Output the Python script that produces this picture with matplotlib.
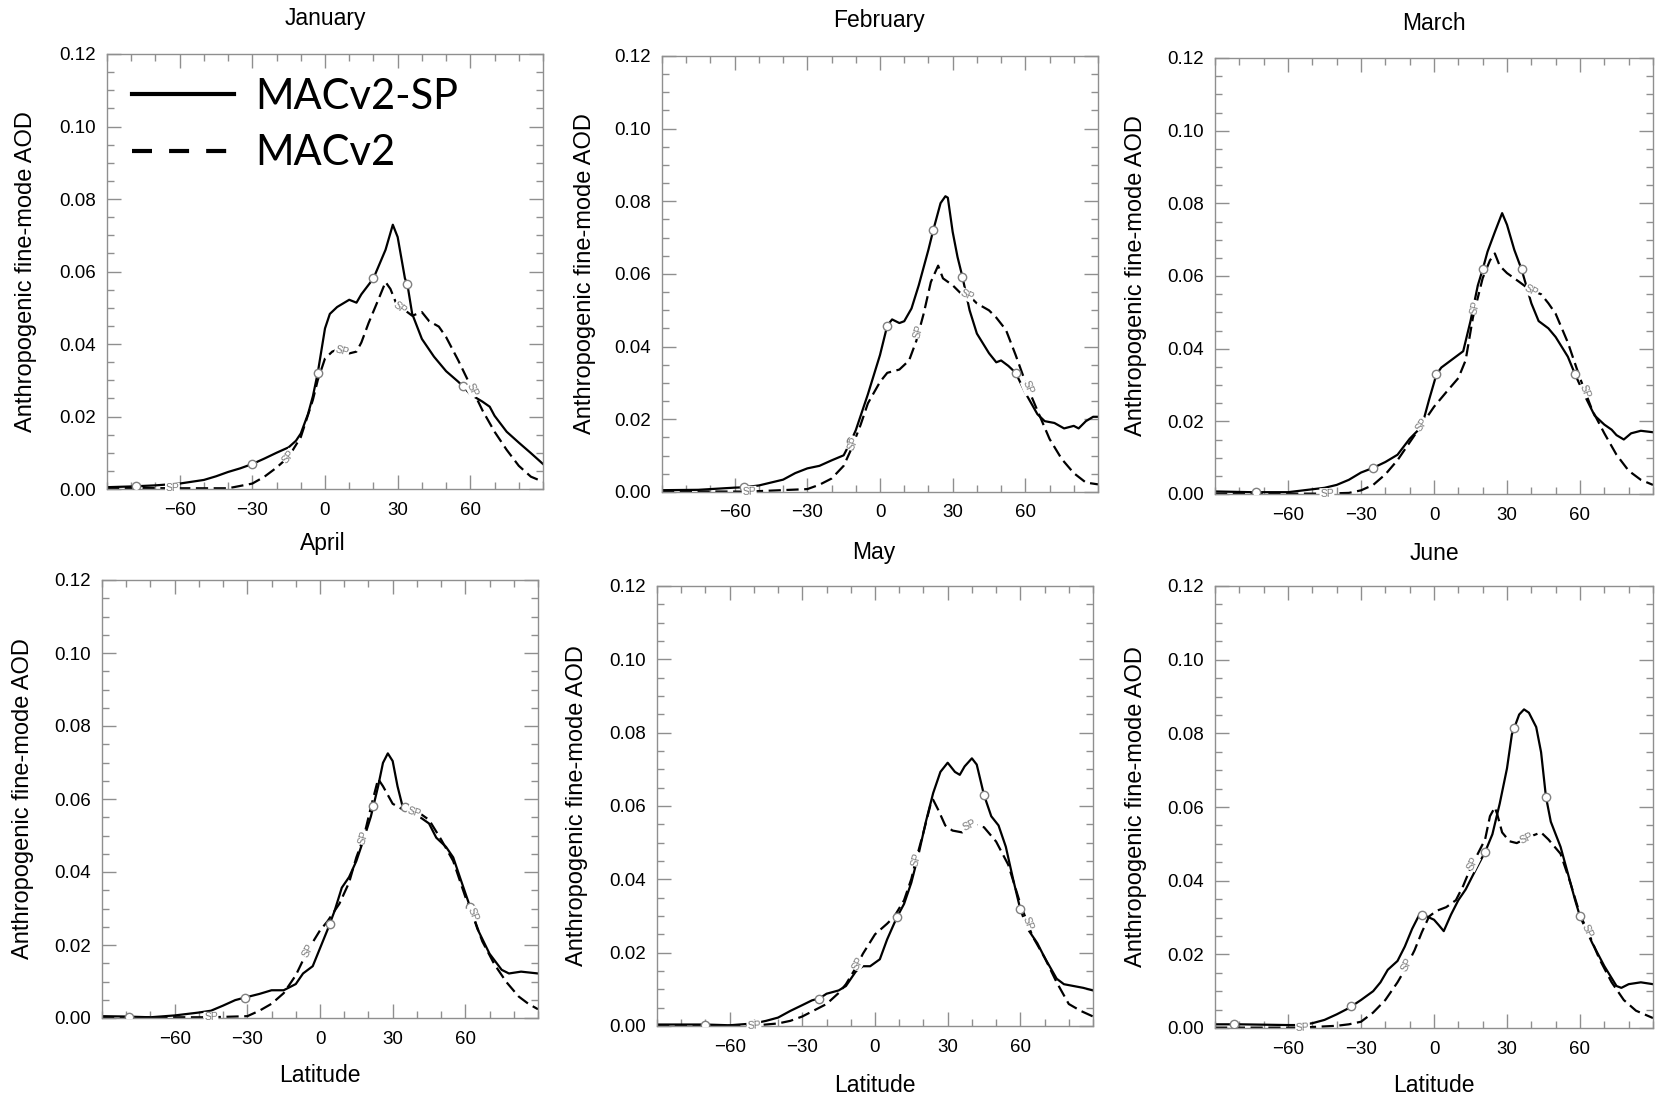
import numpy as np
import matplotlib.pyplot as plt
from matplotlib.lines import Line2D
from matplotlib.ticker import MultipleLocator, FormatStrFormatter

# ---- data (latitude, AOD) ----
months = ['January', 'February', 'March', 'April', 'May', 'June']

jan_lat_sp = [-90, -80, -70, -60, -50, -45, -40, -35, -30, -25, -20, -15, -12, -10, -7, -5, -3, 0, 2, 5, 10, 13, 15, 20, 25, 28, 30, 33, 34, 36, 40, 45, 50, 55, 57, 60, 65, 68, 70, 75, 80, 85, 90]
jan_sp = [0.0005, 0.0007, 0.001, 0.0015, 0.0025, 0.0035, 0.0047, 0.0057, 0.0069, 0.0084, 0.010, 0.0115, 0.0133, 0.0153, 0.0207, 0.0256, 0.032, 0.0443, 0.0483, 0.0502, 0.0522, 0.0514, 0.0537, 0.0581, 0.066, 0.0729, 0.0695, 0.0581, 0.0565, 0.0483, 0.0414, 0.0365, 0.0325, 0.0296, 0.0283, 0.0261, 0.0241, 0.0227, 0.0202, 0.0158, 0.0128, 0.0099, 0.0069]
jan_lat_mac = [-90, -60, -40, -30, -25, -20, -15, -10, -5, -3, 0, 3, 5, 10, 13, 15, 18, 22, 25, 27, 30, 33, 36, 40, 43, 47, 50, 55, 60, 65, 70, 75, 80, 85, 90]
jan_mac = [0.0003, 0.0002, 0.0002, 0.0015, 0.0034, 0.0059, 0.0089, 0.0143, 0.0246, 0.030, 0.036, 0.0379, 0.0384, 0.0374, 0.0379, 0.0404, 0.0458, 0.0522, 0.0571, 0.0552, 0.0502, 0.0493, 0.0478, 0.0488, 0.0463, 0.0448, 0.0419, 0.0355, 0.0286, 0.0217, 0.0158, 0.0108, 0.0064, 0.0034, 0.002]

feb_lat_sp = [-90, -75, -60, -56, -50, -45, -40, -35, -30, -25, -20, -15, -12, -10, -5, 0, 3, 5, 8, 10, 13, 16, 20, 22, 25, 27, 28, 30, 32, 34, 37, 40, 45, 48, 50, 53, 56, 60, 65, 68, 72, 76, 80, 82, 85, 88, 90]
feb_sp = [0.0005, 0.0006, 0.0012, 0.0013, 0.0018, 0.0026, 0.0034, 0.0052, 0.0065, 0.0072, 0.0087, 0.0101, 0.014, 0.017, 0.0269, 0.0377, 0.0458, 0.0475, 0.0465, 0.047, 0.0505, 0.0569, 0.0667, 0.0721, 0.0795, 0.0814, 0.081, 0.0716, 0.0647, 0.0593, 0.050, 0.0436, 0.0382, 0.0357, 0.0362, 0.0347, 0.0328, 0.0273, 0.0214, 0.0195, 0.019, 0.0175, 0.0182, 0.0175, 0.0195, 0.0207, 0.0207]
feb_lat_mac = [-90, -55, -30, -25, -20, -15, -12, -8, -5, 0, 3, 8, 12, 15, 18, 21, 24, 26, 30, 33, 37, 40, 45, 48, 52, 56, 60, 65, 70, 75, 80, 85, 90]
feb_mac = [0.0002, 0.0001, 0.0008, 0.002, 0.0037, 0.0072, 0.0116, 0.0185, 0.0244, 0.0303, 0.0328, 0.0337, 0.0362, 0.0416, 0.049, 0.0578, 0.0623, 0.0588, 0.0569, 0.0549, 0.0539, 0.0519, 0.050, 0.048, 0.0446, 0.0377, 0.0303, 0.0224, 0.0146, 0.0091, 0.0052, 0.0026, 0.0021]

mar_lat_sp = [-90, -75, -60, -50, -45, -40, -35, -30, -25, -20, -15, -10, -5, -2, 1, 3, 8, 12, 15, 18, 20, 22, 25, 28, 30, 33, 36, 40, 43, 47, 50, 55, 58, 62, 66, 70, 73, 75, 78, 81, 85, 90]
mar_sp = [0.0007, 0.0005, 0.0005, 0.0013, 0.0017, 0.0025, 0.0039, 0.0059, 0.0072, 0.0088, 0.0108, 0.0152, 0.0186, 0.026, 0.0329, 0.0348, 0.0373, 0.0393, 0.0476, 0.0574, 0.0618, 0.0667, 0.0721, 0.0773, 0.0741, 0.0672, 0.0618, 0.0525, 0.0476, 0.0456, 0.0432, 0.0378, 0.0329, 0.027, 0.0216, 0.0191, 0.0177, 0.0162, 0.015, 0.0167, 0.0174, 0.017]
mar_lat_mac = [-90, -60, -45, -35, -30, -25, -20, -15, -10, -5, 0, 5, 10, 13, 16, 20, 23, 25, 27, 30, 35, 40, 44, 47, 50, 55, 60, 65, 70, 75, 80, 85, 90]
mar_mac = [0.0001, 0.0001, 0.0001, 0.0003, 0.001, 0.0025, 0.0054, 0.0093, 0.0142, 0.0191, 0.024, 0.028, 0.0319, 0.0368, 0.0486, 0.0594, 0.0643, 0.0662, 0.0628, 0.0608, 0.0584, 0.0559, 0.055, 0.0525, 0.0496, 0.0417, 0.0319, 0.0231, 0.0167, 0.0108, 0.0064, 0.0039, 0.0025]

apr_lat_sp = [-90, -80, -70, -60, -50, -45, -40, -35, -31, -25, -20, -15, -10, -7, -3, 0, 3, 6, 9, 12, 15, 18, 21, 24, 26, 28, 30, 32, 34, 38, 42, 45, 48, 52, 55, 58, 61, 65, 70, 75, 78, 83, 90]
apr_sp = [0.0005, 0.0004, 0.0002, 0.0007, 0.0015, 0.002, 0.0034, 0.0049, 0.0056, 0.0066, 0.0076, 0.0076, 0.0093, 0.0122, 0.0142, 0.0191, 0.024, 0.0293, 0.0357, 0.0386, 0.043, 0.0489, 0.0552, 0.0635, 0.0699, 0.0725, 0.0704, 0.0635, 0.0582, 0.0562, 0.0547, 0.0533, 0.0494, 0.0469, 0.044, 0.0381, 0.0323, 0.0244, 0.0176, 0.0132, 0.0122, 0.0127, 0.0122]
apr_lat_mac = [-90, -45, -30, -25, -20, -15, -10, -5, 0, 3, 8, 12, 15, 18, 21, 24, 26, 30, 34, 38, 42, 45, 50, 55, 60, 63, 67, 72, 77, 82, 86, 90]
apr_mac = [0.0002, 0.0002, 0.0005, 0.002, 0.0039, 0.0068, 0.0117, 0.0186, 0.024, 0.0264, 0.0313, 0.0371, 0.044, 0.0494, 0.0577, 0.0655, 0.0635, 0.0587, 0.0572, 0.0567, 0.0557, 0.0543, 0.0489, 0.043, 0.0332, 0.0284, 0.021, 0.0147, 0.0098, 0.0059, 0.0039, 0.0024]

may_lat_sp = [-90, -70, -60, -50, -45, -40, -35, -30, -26, -23, -20, -15, -12, -8, -5, -2, 2, 5, 9, 12, 15, 18, 21, 24, 27, 30, 33, 35, 37, 40, 42, 45, 48, 51, 54, 57, 60, 63, 67, 70, 75, 78, 82, 86, 90]
may_sp = [0.0004, 0.0004, 0.0002, 0.0007, 0.0014, 0.0023, 0.0041, 0.0057, 0.007, 0.0075, 0.0088, 0.0097, 0.0109, 0.0148, 0.0163, 0.0163, 0.0182, 0.0236, 0.0296, 0.0333, 0.0391, 0.0469, 0.0557, 0.0635, 0.0693, 0.0718, 0.0693, 0.0685, 0.0708, 0.073, 0.0713, 0.063, 0.0572, 0.0547, 0.0489, 0.0401, 0.0318, 0.0265, 0.0226, 0.0187, 0.0129, 0.0114, 0.0109, 0.0104, 0.0097]
may_lat_mac = [-90, -50, -40, -35, -30, -25, -20, -15, -12, -8, -5, 0, 5, 8, 12, 15, 17, 20, 23, 24, 26, 29, 32, 36, 39, 42, 45, 50, 55, 60, 65, 70, 75, 80, 85, 90]
may_mac = [0.0001, 0.0001, 0.0007, 0.0014, 0.0026, 0.0043, 0.006, 0.009, 0.0114, 0.0158, 0.0197, 0.025, 0.0279, 0.0299, 0.0343, 0.0401, 0.0455, 0.0528, 0.0606, 0.0617, 0.0591, 0.0547, 0.0533, 0.0528, 0.0547, 0.0547, 0.0542, 0.0503, 0.044, 0.0333, 0.0245, 0.0187, 0.0119, 0.006, 0.0041, 0.0026]

jun_lat_sp = [-90, -80, -60, -55, -50, -45, -40, -35, -30, -25, -22, -19, -15, -12, -9, -6, -3, 0, 2, 4, 7, 10, 13, 16, 19, 21, 24, 27, 30, 32, 35, 37, 39, 42, 44, 46, 48, 52, 55, 58, 60, 65, 70, 75, 77, 80, 85, 90]
jun_sp = [0.001, 0.001, 0.0008, 0.0008, 0.0013, 0.0022, 0.0037, 0.0054, 0.0076, 0.010, 0.0124, 0.0158, 0.0182, 0.0221, 0.0269, 0.0308, 0.0303, 0.0294, 0.0279, 0.0263, 0.0308, 0.0347, 0.0376, 0.0415, 0.0453, 0.0478, 0.0526, 0.0609, 0.0705, 0.0797, 0.0851, 0.0865, 0.0856, 0.0817, 0.0749, 0.0628, 0.056, 0.0492, 0.042, 0.0347, 0.0303, 0.0231, 0.0168, 0.0114, 0.0109, 0.0119, 0.0124, 0.0119]
jun_lat_mac = [-90, -55, -40, -35, -30, -25, -20, -15, -12, -8, -5, -2, 1, 5, 9, 12, 15, 18, 21, 23, 25, 26, 28, 31, 34, 37, 40, 44, 47, 52, 56, 60, 64, 68, 73, 78, 83, 90]
jun_mac = [0.0001, 0.0001, 0.0006, 0.001, 0.0017, 0.0042, 0.0076, 0.0124, 0.0158, 0.0211, 0.026, 0.0303, 0.0318, 0.0328, 0.0347, 0.0386, 0.0434, 0.0473, 0.0512, 0.0575, 0.0599, 0.058, 0.0531, 0.0507, 0.0502, 0.0512, 0.0521, 0.0531, 0.0512, 0.0473, 0.0395, 0.0308, 0.025, 0.0187, 0.0124, 0.0076, 0.0047, 0.0027]

# latitudes of the in-line labels ("o" on MACv2-SP, "SP" on MACv2)
o_lats = [[-78, -30, -3, 20, 34, 57],
          [-56, -12, 3, 22, 34, 56],
          [-73, -25, 1, 20, 36, 58],
          [-79, -31, 4, 22, 35, 62],
          [-70, -23, 9, 45, 60],
          [-82, -34, -5, 21, 33, 46, 60]]
sp_lats = [[-63, -15, 7, 31, 61],
           [-54, -11, 16, 36, 61],
           [-44, -5, 17, 40, 62],
           [-45, -5, 18, 39, 63],
           [-50, -7, 17, 39, 63],
           [-54, -11, 16, 38, 63]]

series_sp = [(jan_lat_sp, jan_sp), (feb_lat_sp, feb_sp), (mar_lat_sp, mar_sp),
             (apr_lat_sp, apr_sp), (may_lat_sp, may_sp), (jun_lat_sp, jun_sp)]
series_mac = [(jan_lat_mac, jan_mac), (feb_lat_mac, feb_mac), (mar_lat_mac, mar_mac),
              (apr_lat_mac, apr_mac), (may_lat_mac, may_mac), (jun_lat_mac, jun_mac)]

# ---- layout (pixels in a 1661x1095 canvas) ----
W, H = 1661, 1095
boxes = [(107, 543, 54, 489), (662, 1098, 56, 492), (1215, 1653, 58, 494),
         (102, 538, 580, 1018), (657, 1093, 586, 1026), (1215, 1653, 586, 1028)]
title_pos = [(325, 18), (879, 21), (1434, 23), (323, 543), (874, 553), (1434, 554)]
ylab_x = [26, 585, 1136, 23, 577, 1136]
xlab_y = [None, None, None, 1076, 1085, 1085]

plt.rcParams['font.family'] = ['Liberation Sans', 'DejaVu Sans']
frame = '#8f8f8f'
dash = (0, (5.5, 2.5))

fig = plt.figure(figsize=(W / 100, H / 100), dpi=100)

for i, (l, r, t, b) in enumerate(boxes):
    ax = fig.add_axes([l / W, 1 - b / H, (r - l) / W, (b - t) / H])
    ax.set_xlim(-90, 90)
    ax.set_ylim(0, 0.12)

    lat_s, val_s = series_sp[i]
    lat_m, val_m = series_mac[i]
    ax.plot(lat_m, val_m, color='black', lw=1.6, linestyle=dash, zorder=2)
    ax.plot(lat_s, val_s, color='black', lw=1.6, zorder=2)

    # "o" labels on the solid line
    oy = np.interp(o_lats[i], lat_s, val_s)
    ax.plot(o_lats[i], oy, 'o', ms=6, mfc='white', mec='#808080', mew=1.0, zorder=4)

    # "SP" labels on the dashed line, rotated along the curve
    for la in sp_lats[i]:
        y0 = np.interp(la, lat_m, val_m)
        p1 = ax.transData.transform((la - 1.5, np.interp(la - 1.5, lat_m, val_m)))
        p2 = ax.transData.transform((la + 1.5, np.interp(la + 1.5, lat_m, val_m)))
        ang = np.degrees(np.arctan2(p2[1] - p1[1], p2[0] - p1[0]))
        ax.text(la, y0, 'SP', fontsize=7.5, color='#7a7a7a', rotation=ang,
                ha='center', va='center', rotation_mode='anchor', zorder=4,
                bbox=dict(boxstyle='square,pad=0.05', fc='white', ec='none'))

    ax.set_xticks([-60, -30, 0, 30, 60])
    ax.xaxis.set_minor_locator(MultipleLocator(10))
    ax.yaxis.set_major_locator(MultipleLocator(0.02))
    ax.yaxis.set_minor_locator(MultipleLocator(0.005))
    ax.yaxis.set_major_formatter(FormatStrFormatter('%.2f'))
    ax.tick_params(which='both', direction='in', top=True, right=True,
                   color=frame, width=1.0, labelsize=13.5)
    ax.tick_params(which='major', length=10)
    ax.tick_params(which='minor', length=5)
    ax.tick_params(axis='x', pad=9)
    ax.tick_params(axis='y', pad=8)
    for s in ax.spines.values():
        s.set_color(frame)
        s.set_linewidth(1.0)

    cy = (t + b) / 2
    fig.text(title_pos[i][0] / W, 1 - title_pos[i][1] / H, months[i],
             fontsize=16.5, ha='center', va='center')
    fig.text(ylab_x[i] / W, 1 - cy / H, 'Anthropogenic fine-mode AOD',
             fontsize=17, rotation=90, ha='center', va='center')
    if xlab_y[i] is not None:
        fig.text((l + r) / 2 / W, 1 - xlab_y[i] / H, 'Latitude',
                 fontsize=16.5, ha='center', va='center')

    if i == 0:
        handles = [Line2D([], [], color='black', lw=3.0),
                   Line2D([], [], color='black', lw=3.0, linestyle=(0, (4.8, 4.1)))]
        ax.legend(handles, ['MACv2-SP', 'MACv2'], loc='upper left',
                  bbox_to_anchor=(0.057, 0.945), frameon=False,
                  prop={'family': 'Lato', 'size': 30},
                  handlelength=2.45, handletextpad=0.5, labelspacing=0.44,
                  borderpad=0, borderaxespad=0)

fig.savefig('out.png', dpi=100)
